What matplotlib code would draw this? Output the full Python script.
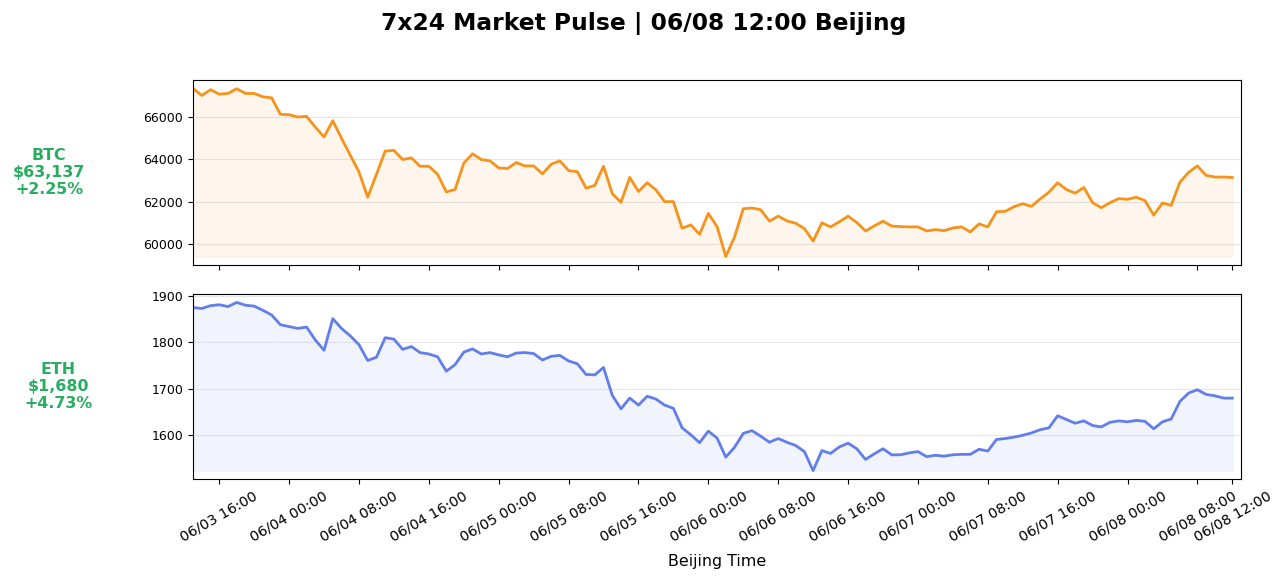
import numpy as np
import pandas as pd
import matplotlib; matplotlib.use('Agg')
import matplotlib.pyplot as plt
import matplotlib.dates as mdates
from matplotlib.ticker import MultipleLocator

# hourly prices, Beijing time
times = pd.date_range('2024-06-03 13:00', periods=120, freq='h')
btc = [67333,67000,67270,67062,67095,67317,67095,67095,66936,66889,
       66111,66095,65984,66016,65508,65048,65810,64984,64190,63397,
       62206,63286,64381,64413,63984,64063,63667,63667,63286,62460,
       62571,63810,64254,63984,63921,63587,63556,63841,63683,63683,
       63310,63760,63921,63460,63413,62635,62762,63667,62381,61968,
       63143,62476,62889,62556,62000,62000,60746,60905,60460,61444,
       60825,59413,60333,61667,61698,61619,61079,61317,61095,60984,
       60730,60143,61000,60810,61048,61317,61016,60619,60857,61079,
       60850,60825,60810,60810,60619,60683,60635,60762,60810,60571,
       60952,60810,61524,61540,61762,61900,61778,62127,62444,62889,
       62571,62397,62667,61952,61714,61952,62143,62111,62206,62048,
       61365,61937,61825,62921,63381,63683,63238,63159,63159,63137]
eth = [1875,1873,1879,1881,1877,1886,1880,1878,1869,1859,
       1838,1834,1830,1833,1805,1783,1851,1830,1814,1795,
       1761,1768,1810,1807,1785,1791,1778,1775,1769,1738,
       1752,1779,1786,1775,1778,1773,1769,1777,1778,1776,
       1762,1770,1772,1760,1754,1731,1730,1746,1686,1657,
       1680,1665,1684,1678,1665,1658,1616,1601,1584,1609,
       1594,1553,1574,1604,1610,1598,1585,1593,1585,1578,
       1565,1524,1567,1561,1575,1583,1571,1548,1560,1571,
       1558,1558,1562,1565,1554,1557,1555,1558,1559,1559,
       1570,1566,1591,1593,1596,1600,1605,1612,1616,1642,
       1634,1626,1631,1621,1618,1628,1631,1629,1632,1630,
       1614,1629,1635,1673,1691,1698,1688,1685,1680,1680]

assets = ['BTC', 'ETH']
colors = ['#F7931A', '#627EEA']
labels = ['BTC\n$63,137\n+2.25%', 'ETH\n$1,680\n+4.73%']
ysteps = [2000, 100]
lab_x = [-0.1374, -0.1288]

fig, axes = plt.subplots(2, 1, figsize=(12.87, 5.83), dpi=100, sharex=True)
fig.subplots_adjust(left=0.150, right=0.9643, top=0.8628, bottom=0.1784, hspace=0.157)

for ax, vals, col, lab, st, lx in zip(axes, [btc, eth], colors, labels, ysteps, lab_x):
    v = np.array(vals, dtype=float)
    ax.plot(times, v, color=col, lw=2.0)
    ax.fill_between(times, v, v.min(), color=col, alpha=0.08)
    ax.grid(axis='y', alpha=0.3)
    ax.yaxis.set_major_locator(MultipleLocator(st))
    ax.tick_params(axis='y', labelsize=9)
    ax.text(lx, 0.5, lab, transform=ax.transAxes, ha='center', va='center',
            fontsize=11.4, fontweight='bold', color='#27ae60')

ticks = list(pd.date_range('2024-06-03 16:00', '2024-06-08 08:00', freq='8h')) + [pd.Timestamp('2024-06-08 12:00')]
ax = axes[1]
ax.set_xlim(times[0], times[0] + pd.Timedelta(hours=120))
ax.set_xticks(ticks)
ax.xaxis.set_major_formatter(mdates.DateFormatter('%m/%d %H:%M'))
ax.tick_params(axis='x', labelsize=10.3, rotation=30)
ax.set_xlabel('Beijing Time', fontsize=11.4, labelpad=7)

fig.suptitle('7x24 Market Pulse | 06/08 12:00 Beijing', fontsize=16.8, fontweight='bold', y=0.959, va='center')
fig.savefig('out.png', dpi=100)
